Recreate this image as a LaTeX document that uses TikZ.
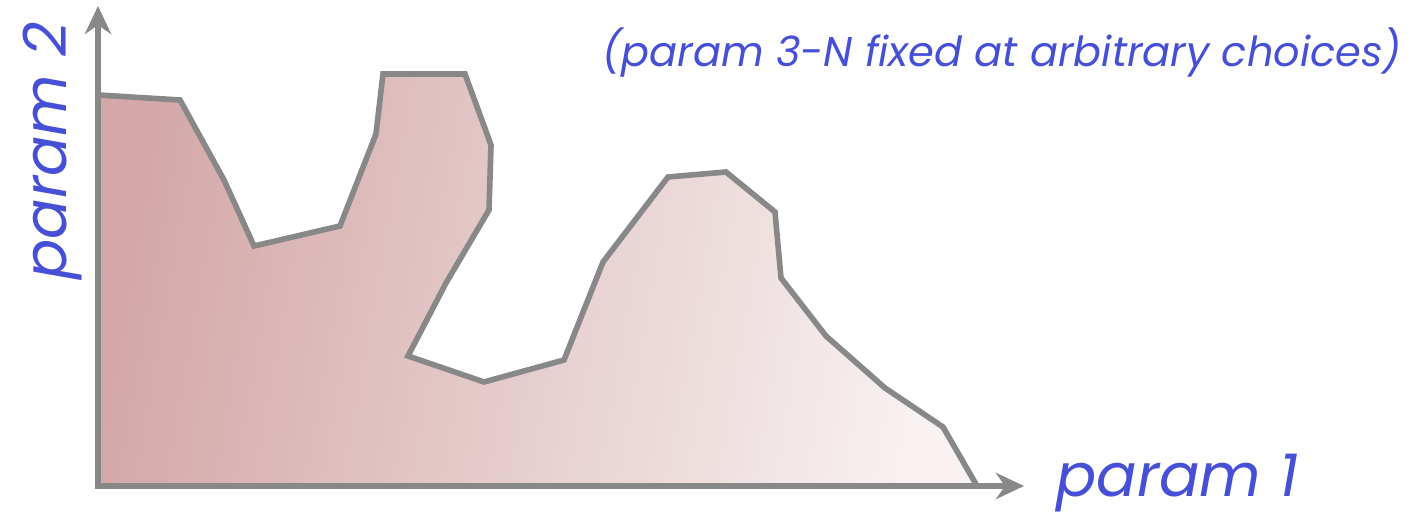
\documentclass[tikz,border=0pt]{standalone}
\usepackage{fontspec}
\setmainfont{Poppins}
\usetikzlibrary{positioning, arrows.meta}
\definecolor{axisgray}{RGB}{136,136,136}
\definecolor{labelblue}{RGB}{70,80,215}
\definecolor{regiondark}{RGB}{212,168,168}
\definecolor{regionlight}{RGB}{248,242,242}

\begin{document}
\begin{tikzpicture}[
	x=0.02cm, y=-0.02cm,
	axis/.style={draw=axisgray, line width=3pt, -{Stealth[length=16pt, width=15pt]}},
	region/.style={draw=axisgray, line width=3.2pt, line join=miter, left color=regiondark, right color=regionlight, shading angle=80},
	axislabel/.style={text=labelblue, font=\itshape\fontsize{34}{40}\selectfont, inner sep=0pt},
	note/.style={text=labelblue, font=\itshape\fontsize{23.6}{28}\selectfont, inner sep=0pt},
	]
	
	\useasboundingbox (0,0) rectangle (1416,516);
	
	% feasible region
	\path[region] (98,95) -- (180,100) -- (224,180) -- (254,246) -- (340,226) -- (376,134)
		-- (383,74) -- (465,74) -- (491,145) -- (489,210) -- (446,283) -- (408,356)
		-- (484,382) -- (564,360) -- (603,262) -- (668,177) -- (726,172) -- (775,212)
		-- (781,278) -- (826,336) -- (885,388) -- (943,427) -- (977,486) -- (98,486) -- cycle;
	
	% axes
	\coordinate (origin) at (98,486);
	\coordinate (xend) at (1024,486);
	\coordinate (yend) at (98,6);
	\draw[axis] (origin) -- (xend);
	\draw[axis] (origin) -- (yend);
	
	% labels
	\node[axislabel, anchor=base west] (xlabel) at (1056,497) {param 1};
	\node[axislabel, anchor=base west, rotate=90] (ylabel) at (66,280) {param 2};
	\node[note, anchor=base east] (fixed) at (1402,67) {(param 3-N fixed at arbitrary choices)};
	
\end{tikzpicture}
\end{document}
